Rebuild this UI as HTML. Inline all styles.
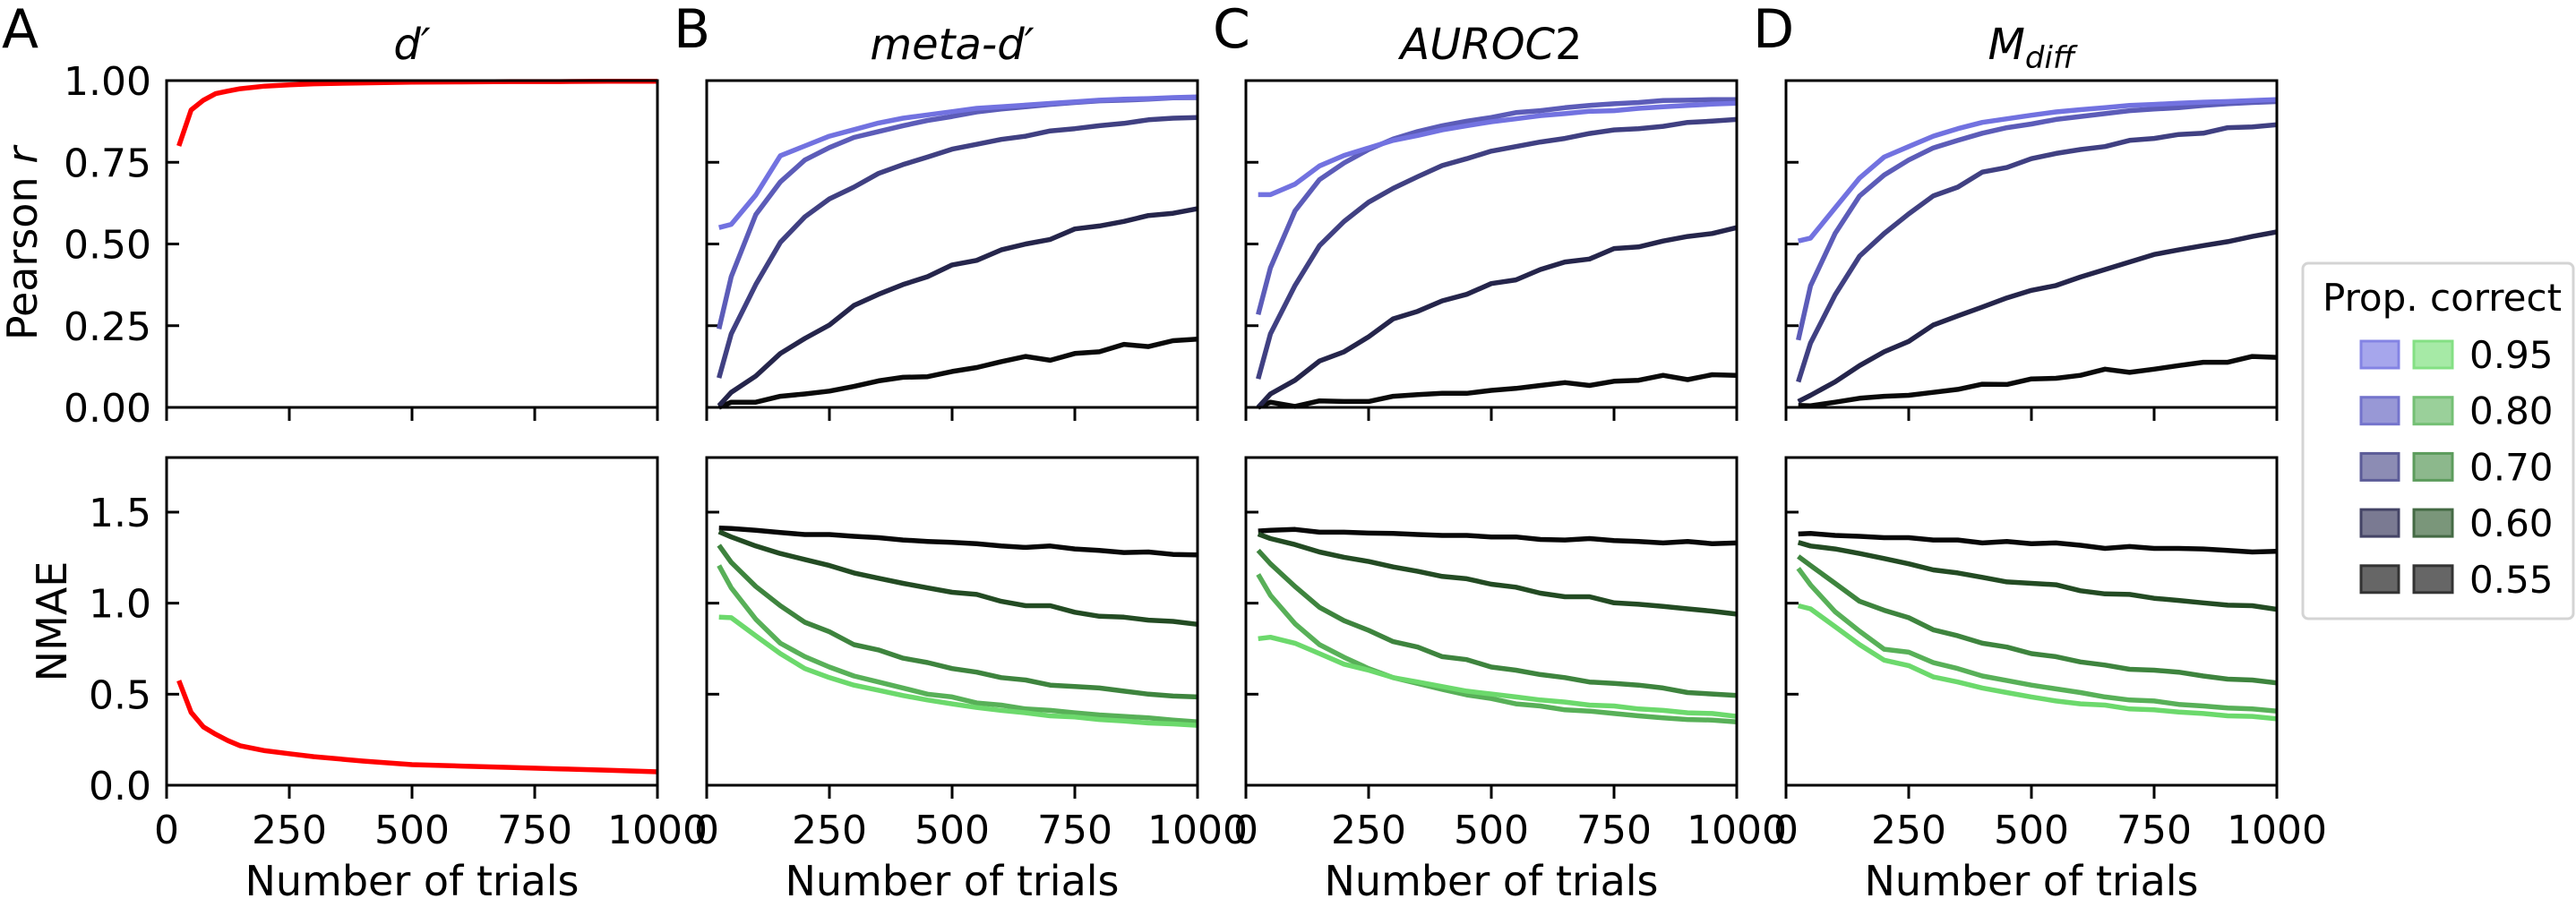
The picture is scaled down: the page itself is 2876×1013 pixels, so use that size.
<!DOCTYPE html>
<html><head><meta charset="utf-8">
<style>
html,body{margin:0;padding:0;background:#fff;}
svg{display:block;font-family:"DejaVu Sans","Liberation Sans",sans-serif;}
</style></head>
<body>
<svg id="fig" width="2876" height="1013" viewBox="0 0 2876 1013" xmlns="http://www.w3.org/2000/svg"></svg>
<script>
// ---- data ----
const trialsA = [25,50,75,100,125,150,200,250,300,400,500,600,700,800,900,1000];
const dprimeR = [0.80,0.91,0.94,0.96,0.968,0.975,0.983,0.987,0.99,0.993,0.995,0.996,0.997,0.997,0.998,0.998];
const dprimeNMAE = [0.575,0.40,0.32,0.28,0.245,0.217,0.19,0.173,0.157,0.133,0.113,0.105,0.098,0.09,0.082,0.074];
const trials = [25,50,100,150,200,250,300,350,400,450,500,550,600,650,700,750,800,850,900,950,1000];
const propLabels = ["0.95","0.80","0.70","0.60","0.55"];
const blueColors = ["#7272e0","#5c5cb8","#404082","#25254b","#0a0a0a"];
const greenColors = ["#6cd96c","#58b058","#3e843e","#234b23","#080808"];
// meta-d' Pearson r
const bR95 = [0.55,0.56,0.65,0.77,0.80,0.83,0.85,0.87,0.885,0.895,0.905,0.915,0.92,0.925,0.93,0.935,0.94,0.943,0.945,0.948,0.95];
const bR80 = [0.24,0.40,0.59,0.69,0.757,0.795,0.826,0.844,0.862,0.878,0.89,0.904,0.913,0.92,0.927,0.933,0.938,0.94,0.943,0.947,0.948];
const bR70 = [0.09,0.225,0.376,0.505,0.583,0.638,0.674,0.716,0.743,0.766,0.79,0.805,0.82,0.83,0.846,0.853,0.862,0.869,0.88,0.885,0.887];
const bR60 = [0.005,0.046,0.096,0.165,0.211,0.252,0.312,0.346,0.376,0.40,0.436,0.45,0.482,0.50,0.514,0.546,0.555,0.569,0.587,0.594,0.608];
const bR55 = [0,0.016,0.016,0.034,0.041,0.05,0.064,0.081,0.092,0.094,0.11,0.122,0.14,0.156,0.144,0.165,0.17,0.193,0.186,0.204,0.209];
// meta-d' NMAE
const bE95 = [0.923,0.92,0.821,0.723,0.641,0.591,0.55,0.522,0.493,0.468,0.447,0.427,0.411,0.398,0.381,0.375,0.361,0.353,0.342,0.337,0.329];
const bE80 = [1.207,1.084,0.912,0.78,0.706,0.649,0.60,0.567,0.534,0.50,0.485,0.452,0.44,0.419,0.411,0.398,0.386,0.378,0.37,0.358,0.348];
const bE70 = [1.318,1.224,1.092,0.986,0.895,0.843,0.772,0.743,0.698,0.674,0.641,0.621,0.591,0.578,0.55,0.542,0.534,0.517,0.50,0.49,0.485];
const bE60 = [1.393,1.364,1.314,1.273,1.24,1.207,1.166,1.137,1.109,1.084,1.06,1.048,1.01,0.986,0.986,0.95,0.928,0.923,0.907,0.90,0.884];
const bE55 = [1.413,1.41,1.40,1.388,1.377,1.377,1.367,1.36,1.347,1.339,1.334,1.327,1.314,1.306,1.314,1.298,1.29,1.278,1.281,1.268,1.265];
// AUROC2 Pearson r
const cR95 = [0.651,0.651,0.683,0.739,0.771,0.794,0.817,0.832,0.849,0.862,0.874,0.883,0.893,0.899,0.906,0.908,0.915,0.92,0.924,0.928,0.931];
const cR80 = [0.284,0.427,0.601,0.697,0.748,0.789,0.821,0.844,0.862,0.876,0.887,0.902,0.908,0.917,0.924,0.929,0.933,0.939,0.94,0.942,0.942];
const cR70 = [0.087,0.225,0.373,0.495,0.569,0.628,0.67,0.706,0.74,0.761,0.784,0.798,0.812,0.823,0.838,0.849,0.853,0.86,0.872,0.876,0.881];
const cR60 = [0,0.041,0.083,0.142,0.17,0.216,0.271,0.294,0.326,0.346,0.379,0.39,0.422,0.445,0.454,0.486,0.491,0.509,0.523,0.532,0.55];
const cR55 = [0,0.016,0.003,0.02,0.018,0.018,0.034,0.039,0.043,0.043,0.052,0.058,0.067,0.076,0.067,0.08,0.083,0.098,0.085,0.10,0.098];
// AUROC2 NMAE
const cE95 = [0.805,0.813,0.78,0.723,0.665,0.632,0.591,0.567,0.542,0.517,0.501,0.485,0.468,0.457,0.44,0.435,0.419,0.411,0.398,0.394,0.378];
const cE80 = [1.158,1.043,0.887,0.772,0.703,0.641,0.591,0.559,0.526,0.496,0.476,0.447,0.435,0.414,0.407,0.394,0.381,0.37,0.361,0.358,0.348];
const cE70 = [1.29,1.216,1.092,0.977,0.904,0.851,0.789,0.759,0.706,0.69,0.649,0.632,0.608,0.591,0.567,0.559,0.55,0.534,0.509,0.501,0.493];
const cE60 = [1.38,1.355,1.322,1.281,1.252,1.229,1.199,1.175,1.147,1.134,1.104,1.088,1.055,1.035,1.035,1.002,0.994,0.982,0.969,0.956,0.94];
const cE55 = [1.396,1.40,1.405,1.39,1.39,1.385,1.383,1.377,1.372,1.372,1.364,1.364,1.35,1.347,1.355,1.344,1.339,1.331,1.339,1.327,1.331];
// M_diff Pearson r
const dR95 = [0.509,0.518,0.61,0.702,0.766,0.798,0.83,0.853,0.872,0.883,0.894,0.904,0.911,0.917,0.924,0.927,0.931,0.934,0.936,0.939,0.942];
const dR80 = [0.206,0.372,0.532,0.647,0.711,0.757,0.794,0.817,0.839,0.856,0.867,0.881,0.89,0.899,0.908,0.913,0.917,0.924,0.929,0.933,0.936];
const dR70 = [0.078,0.197,0.344,0.463,0.532,0.592,0.647,0.674,0.72,0.734,0.761,0.777,0.789,0.798,0.817,0.823,0.835,0.839,0.856,0.858,0.865];
const dR60 = [0.018,0.037,0.078,0.128,0.17,0.202,0.252,0.28,0.307,0.335,0.358,0.373,0.399,0.422,0.445,0.468,0.482,0.495,0.507,0.523,0.537];
const dR55 = [0.006,0.005,0.016,0.028,0.034,0.037,0.046,0.055,0.071,0.07,0.087,0.089,0.098,0.117,0.107,0.117,0.128,0.138,0.138,0.156,0.153];
// M_diff NMAE
const dE95 = [0.986,0.969,0.871,0.772,0.687,0.657,0.595,0.567,0.534,0.509,0.485,0.463,0.447,0.44,0.419,0.414,0.402,0.394,0.381,0.378,0.365];
const dE80 = [1.191,1.10,0.953,0.846,0.747,0.731,0.674,0.641,0.6,0.575,0.55,0.529,0.509,0.485,0.468,0.463,0.444,0.435,0.424,0.419,0.407];
const dE70 = [1.257,1.207,1.109,1.01,0.961,0.92,0.854,0.821,0.78,0.759,0.723,0.706,0.677,0.66,0.637,0.632,0.621,0.6,0.583,0.578,0.562];
const dE60 = [1.334,1.314,1.298,1.273,1.245,1.216,1.183,1.166,1.142,1.117,1.109,1.101,1.068,1.051,1.048,1.027,1.015,1.002,0.989,0.986,0.966];
const dE55 = [1.38,1.383,1.372,1.367,1.36,1.36,1.347,1.347,1.331,1.339,1.327,1.331,1.318,1.301,1.311,1.301,1.301,1.298,1.29,1.281,1.285];
const rTicks = [0, 0.25, 0.5, 0.75, 1.0];
const rTickLabels = ["0.00","0.25","0.50","0.75","1.00"];
const eTicks = [0, 0.5, 1.0, 1.5];
const eTickLabels = ["0.0","0.5","1.0","1.5"];
const xTicks = [0, 250, 500, 750, 1000];
const xTickLabels = ["0","250","500","750","1000"];
const legendBlue = ["#a6a6ec","#9898d6","#8c8cb4","#7a7a92","#666666"];
const legendGreen = ["#a6eaa6","#9ad09a","#8cb88c","#7a967a","#666666"];
const legendBlueEdge = ["#8484e4","#7474cc","#5c5c98","#444466","#333333"];
const legendGreenEdge = ["#84e084","#74c074","#5c9c5c","#446a44","#333333"];

// ---- layout ----
const NS = "http://www.w3.org/2000/svg";
const svg = document.getElementById("fig");
const panelLefts = [186, 789, 1391, 1994];
const PW = 548;
const topY0 = 90, topY1 = 455;
const botY0 = 511, botY1 = 877;
function mk(tag, attrs, parent) {
  const e = document.createElementNS(NS, tag);
  for (const k in attrs) e.setAttribute(k, attrs[k]);
  (parent || svg).appendChild(e);
  return e;
}
function xScale(left) { return v => left + (v / 1000) * PW; }
function yScaleR(v) { return topY1 - v * (topY1 - topY0); }
function yScaleE(v) { return botY1 - (v / 1.8) * (botY1 - botY0); }

function drawAxes(left, y0, y1, yTicks, yLabels, ys, showYLabels, prefix) {
  const g = mk("g", {});
  
  
  const sx = xScale(left);
  xTicks.forEach((t, i) => {
    const tk = mk("line", {x1: sx(t), x2: sx(t), y1: y1, y2: y1 + 15, stroke: "#000", "stroke-width": 3}, g);
    
    
    if (y1 === botY1) {
      const tl = mk("text", {x: sx(t), y: 942, "text-anchor": "middle", "font-size": 44}, g);
      tl.textContent = xTickLabels[i];
      
      
    }
  });
  yTicks.forEach((t, i) => {
    const tk = mk("line", {x1: left, x2: left + 14, y1: ys(t), y2: ys(t), stroke: "#000", "stroke-width": 3}, g);
    
    
    if (showYLabels) {
      const tl = mk("text", {x: left - 17, y: ys(t) + 16, "text-anchor": "end", "font-size": 44}, g);
      tl.textContent = yLabels[i];
      
      
    }
  });
  return g;
}
function drawFrame(left, y0, y1, prefix) {
  const r = mk("rect", {x: left, y: y0, width: PW, height: y1 - y0, fill: "none", stroke: "#000", "stroke-width": 3});
  
  
}
function drawLine(xs, vals, sx, sy, color, w, name) {
  const d = xs.map((x, i) => (i ? "L" : "M") + sx(x).toFixed(1) + "," + sy(vals[i]).toFixed(1)).join(" ");
  const p = mk("path", {d: d, fill: "none", stroke: color, "stroke-width": w, "stroke-linejoin": "round", "stroke-linecap": "butt"});
  
  
}

// Panel A
drawAxes(panelLefts[0], topY0, topY1, rTicks, rTickLabels, yScaleR, true, "panel-a-top");
drawLine(trialsA, dprimeR, xScale(panelLefts[0]), yScaleR, "#ff0000", 5.5, "dprime-pearson-line");
drawFrame(panelLefts[0], topY0, topY1, "panel-a-top");
drawAxes(panelLefts[0], botY0, botY1, eTicks, eTickLabels, yScaleE, true, "panel-a-bottom");
drawLine(trialsA, dprimeNMAE, xScale(panelLefts[0]), yScaleE, "#ff0000", 5.5, "dprime-nmae-line");
drawFrame(panelLefts[0], botY0, botY1, "panel-a-bottom");

const panelSeries = [
  {R: [bR95, bR80, bR70, bR60, bR55], E: [bE95, bE80, bE70, bE60, bE55], id: "b"},
  {R: [cR95, cR80, cR70, cR60, cR55], E: [cE95, cE80, cE70, cE60, cE55], id: "c"},
  {R: [dR95, dR80, dR70, dR60, dR55], E: [dE95, dE80, dE70, dE60, dE55], id: "d"}
];
panelSeries.forEach((ps, pi) => {
  const left = panelLefts[pi + 1];
  const sx = xScale(left);
  drawAxes(left, topY0, topY1, rTicks, rTickLabels, yScaleR, false, "panel-" + ps.id + "-top");
  for (let k = 4; k >= 0; k--) drawLine(trials, ps.R[k], sx, yScaleR, blueColors[k], 5.5, "panel-" + ps.id + "-pearson-" + propLabels[k]);
  drawFrame(left, topY0, topY1, "panel-" + ps.id + "-top");
  drawAxes(left, botY0, botY1, eTicks, eTickLabels, yScaleE, false, "panel-" + ps.id + "-bottom");
  for (let k = 4; k >= 0; k--) drawLine(trials, ps.E[k], sx, yScaleE, greenColors[k], 5.5, "panel-" + ps.id + "-nmae-" + propLabels[k]);
  drawFrame(left, botY0, botY1, "panel-" + ps.id + "-bottom");
});

// x labels
panelLefts.forEach((l, i) => {
  const t = mk("text", {x: l + PW / 2, y: 1000, "text-anchor": "middle", "font-size": 46});
  t.textContent = "Number of trials";
  
  
});
// y labels
const yl1 = mk("text", {x: 0, y: 0, "text-anchor": "middle", "font-size": 46, transform: "translate(41,272) rotate(-90)"});
yl1.innerHTML = 'Pearson <tspan font-style="italic">r</tspan>';


const yl2 = mk("text", {x: 0, y: 0, "text-anchor": "middle", "font-size": 46, transform: "translate(74,694) rotate(-90)"});
yl2.textContent = "NMAE";



// panel letters
["A","B","C","D"].forEach((L, i) => {
  const t = mk("text", {x: i === 0 ? 2 : panelLefts[i] - 37, y: 53, "font-size": 60});
  t.textContent = L;
  
  
});
// titles
const titles = [
  '<tspan font-style="italic">d′</tspan>',
  '<tspan font-style="italic">meta-d′</tspan>',
  '<tspan font-style="italic">AUROC</tspan>2',
  '<tspan font-style="italic">M</tspan><tspan font-style="italic" font-size="34" dy="10">diff</tspan>'
];
titles.forEach((h, i) => {
  const t = mk("text", {x: panelLefts[i] + PW / 2, y: 66, "text-anchor": "middle", "font-size": 48});
  t.innerHTML = h;
  
  
});

// legend
const lg = mk("g", {});


const lbox = mk("rect", {x: 2571, y: 294, width: 302, height: 397, rx: 6, fill: "#fff", stroke: "#d4d4d4", "stroke-width": 3}, lg);


const lt = mk("text", {x: 2593, y: 347, "font-size": 42}, lg);
lt.textContent = "Prop. correct";


propLabels.forEach((p, k) => {
  const cy = 396 + k * 62.7;
  const b = mk("rect", {x: 2636, y: cy - 15, width: 42, height: 30, fill: legendBlue[k], stroke: legendBlueEdge[k], "stroke-width": 3}, lg);
  
  
  const g2 = mk("rect", {x: 2695, y: cy - 15, width: 43, height: 30, fill: legendGreen[k], stroke: legendGreenEdge[k], "stroke-width": 3}, lg);
  
  
  const t = mk("text", {x: 2757, y: cy + 15, "font-size": 42}, lg);
  t.textContent = p;
  
  
});
</script>
</body></html>
